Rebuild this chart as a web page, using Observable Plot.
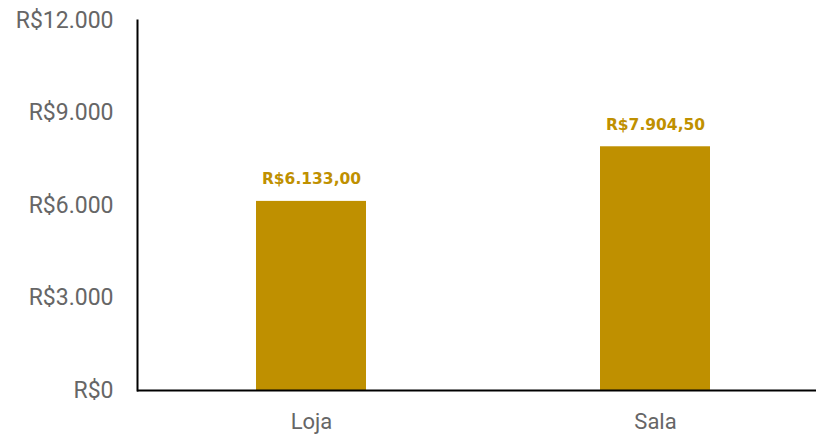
<!DOCTYPE html>
<html>
<head>
<meta charset="utf-8">
<script src="https://cdn.jsdelivr.net/npm/d3@7"></script>
<script src="https://cdn.jsdelivr.net/npm/@observablehq/plot@0.6"></script>
<style>
  html, body { margin: 0; padding: 0; background: #fff; }
  #chart svg { display: block; }
</style>
</head>
<body>
<div id="chart"></div>
<script>
const categories = ["Loja", "Sala"];
const values = [6133.00, 7904.50];
const yTicks = [0, 3000, 6000, 9000, 12000];

const data = categories.map((c, i) => ({ category: c, value: values[i] }));

const fmtTick = v => "R$" + d3.format(",.0f")(v).replace(/,/g, ".");
const fmtLabel = v => "R$" + d3.format(",.2f")(v).replace(/,/g, "_").replace(/\./g, ",").replace(/_/g, ".");

const gold = "#BF9000";

const chart = Plot.plot({
  width: 816,
  height: 435,
  marginLeft: 137,
  marginRight: 0,
  marginTop: 20,
  marginBottom: 45,
  style: { fontFamily: "Roboto, sans-serif", background: "#fff" },
  x: { domain: categories, range: [137, 828], paddingInner: 0.681, paddingOuter: 0.342, label: null },
  y: { domain: [0, 12000], label: null },
  marks: [
    Plot.barY(data, { x: "category", y: "value", fill: gold }),
    Plot.text(data, {
      x: "category", y: "value", text: d => fmtLabel(d.value),
      dy: -22, fill: gold, fontWeight: "bold", fontSize: 15.5,
      fontFamily: "DejaVu Sans, sans-serif"
    }),
    Plot.axisY({ ticks: yTicks, tickFormat: fmtTick, tickSize: 0, tickPadding: 24, fontSize: 23, color: "#666", label: null }),
    Plot.axisX({ tickSize: 0, tickPadding: 23, fontSize: 22, color: "#666", label: null }),
    Plot.frame({ anchor: "left", stroke: "#000", strokeWidth: 2 }),
    Plot.ruleY([0], { stroke: "#000", strokeWidth: 2 })
  ]
});
document.getElementById("chart").append(chart);
</script>
</body>
</html>
